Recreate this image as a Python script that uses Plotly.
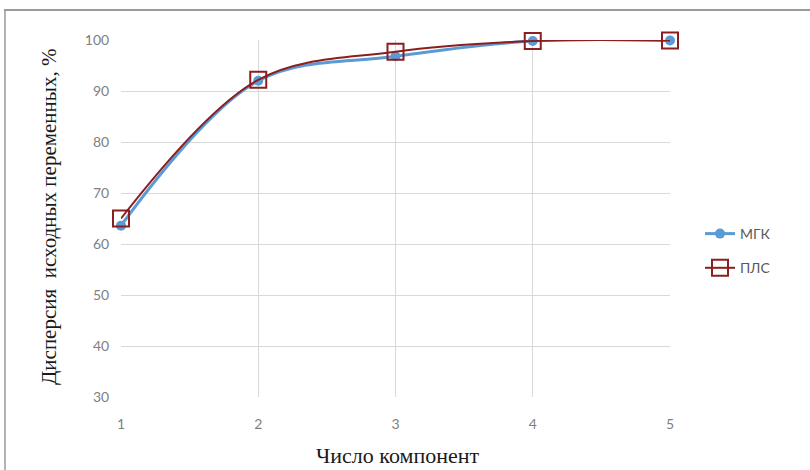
import plotly.graph_objects as go

components = [1, 2, 3, 4, 5]
mgk = [63.6, 92.0, 96.8, 99.8, 99.9]
pls = [65.0, 92.2, 97.7, 99.8, 99.9]
series_names = ["МГК", "ПЛС"]
y_ticks = [30, 40, 50, 60, 70, 80, 90, 100]
x_title = "Число компонент"
y_title = "Дисперсия  исходных переменных, %"

W, H = 810, 470
L, R, T, B = 121, 140, 40, 73
pw, ph = W - L - R, H - T - B

def px(x):
    return (x - L) / pw

def py(y):
    return (H - B - y) / ph

fig = go.Figure()
fig.add_trace(go.Scatter(
    x=components, y=mgk, name=series_names[0], mode="lines+markers",
    line=dict(color="#5b9bd5", width=3, shape="spline", smoothing=1),
    marker=dict(symbol="circle", size=10, color="#5b9bd5"),
    cliponaxis=False, legendgroup="a"))
fig.add_trace(go.Scatter(
    x=components, y=pls, name=series_names[1], mode="lines+markers",
    line=dict(color="#8b1f1f", width=2, shape="spline", smoothing=1),
    marker=dict(symbol="square-open", size=16, color="#8b1f1f", line=dict(width=2)),
    cliponaxis=False, legendgroup="b"))

grid = "#d9d9d9"
tickfont = dict(family="Lato, Open Sans, sans-serif", size=14, color="#7f7f7f")
fig.update_layout(
    width=W, height=H,
    margin=dict(l=L, r=R, t=T, b=B),
    paper_bgcolor="white", plot_bgcolor="white",
    showlegend=True,
    legend=dict(x=px(700), y=py(218), xanchor="left", yanchor="top",
                font=dict(family="Lato, Open Sans, sans-serif", size=14, color="#595959"),
                tracegroupgap=13, bgcolor="rgba(0,0,0,0)"),
    xaxis=dict(range=[1, 5], tickvals=components, showgrid=True, gridcolor=grid, gridwidth=1,
               zeroline=False, showline=False, ticks="outside", ticklen=14,
               tickcolor="rgba(0,0,0,0)", tickfont=tickfont),
    yaxis=dict(range=[30, 100], tickvals=y_ticks, showgrid=True, gridcolor=grid, gridwidth=1,
               zeroline=False, showline=False, ticks="outside", ticklen=8,
               tickcolor="rgba(0,0,0,0)", tickfont=tickfont),
    shapes=[
        dict(type="line", xref="paper", yref="paper", x0=px(4), x1=px(W), y0=py(10), y1=py(10),
             line=dict(color="#9a9a9a", width=2)),
        dict(type="line", xref="paper", yref="paper", x0=px(5), x1=px(5), y0=py(10), y1=py(H),
             line=dict(color="#9a9a9a", width=1.5)),
    ],
    annotations=[
        dict(text=x_title, xref="paper", yref="paper", x=px(397), y=py(455),
             showarrow=False, xanchor="center", yanchor="middle",
             font=dict(family="Liberation Serif, Times New Roman, serif", size=22, color="#1a1a1a")),
        dict(text=y_title, xref="paper", yref="paper", x=px(49), y=py(217),
             showarrow=False, xanchor="center", yanchor="middle", textangle=-90,
             font=dict(family="Liberation Serif, Times New Roman, serif", size=21, color="#1a1a1a")),
    ],
)

fig.write_html("out.html", config={"displayModeBar": False},
               post_script="document.body.style.margin='0px';")
